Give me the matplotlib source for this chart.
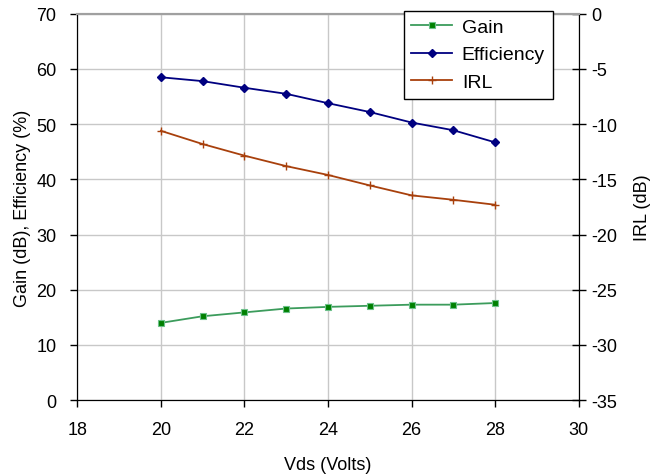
import matplotlib
matplotlib.use("Agg")
import matplotlib.pyplot as plt

plt.rcParams['font.family'] = ['Liberation Sans', 'DejaVu Sans']
plt.rcParams['axes.unicode_minus'] = False

# data
vds = [20, 21, 22, 23, 24, 25, 26, 27, 28]
gain = [14.0, 15.2, 15.9, 16.6, 16.9, 17.1, 17.3, 17.3, 17.6]
efficiency = [58.5, 57.8, 56.6, 55.5, 53.8, 52.2, 50.3, 48.9, 46.7]
irl = [-10.6, -11.8, -12.85, -13.8, -14.6, -15.55, -16.45, -16.85, -17.3]

fig = plt.figure(figsize=(6.6, 4.77), dpi=100)
ax = fig.add_axes([0.117, 0.159, 0.760, 0.810])
ax2 = ax.twinx()

l1, = ax.plot(vds, gain, '-', color='#3c9c5c', lw=1.3, marker='s', ms=5,
              mfc='#008000', mec='#6cc08a', mew=0.8, label='Gain')
l2, = ax.plot(vds, efficiency, '-', color='#000080', lw=1.3, marker='D', ms=4,
              mfc='#000080', mec='#000080', label='Efficiency')
l3, = ax2.plot(vds, irl, '-', color='#a8400c', lw=1.3, marker='+', ms=6,
               mec='#a8400c', mew=1.0, label='IRL')

ax.set_xlim(18, 30)
ax.set_ylim(0, 70)
ax2.set_ylim(-35, 0)
ax.set_xticks(range(18, 31, 2))
ax.set_yticks(range(0, 71, 10))
ax2.set_yticks(range(-35, 1, 5))

ax.grid(True, color='#c8c8c8', lw=1.0)
ax.set_axisbelow(True)

ax.tick_params(direction='out', length=5, width=1, labelsize=13, colors='black')
ax2.tick_params(direction='inout', length=10, width=1, labelsize=13, colors='black')
for a in (ax, ax2):
    a.spines['top'].set_color('#a0a0a0')
    a.spines['top'].set_linewidth(1.5)
ax.tick_params(axis='x', pad=10)
ax.tick_params(axis='y', pad=10)
ax2.tick_params(axis='y', pad=4)

ax.set_xlabel('Vds (Volts)', fontsize=13, labelpad=13)
ax.set_ylabel('Gain (dB), Efficiency (%)', fontsize=13, labelpad=4)
ax2.set_ylabel('IRL (dB)', fontsize=13, labelpad=12)

leg = ax2.legend(handles=[l1, l2, l3], loc='upper right',
                 bbox_to_anchor=(0.948, 1.008), borderaxespad=0, fontsize=14,
                 fancybox=False, edgecolor='black', framealpha=1,
                 handlelength=2.1, borderpad=0.4, labelspacing=0.5,
                 handletextpad=0.5)
leg.get_frame().set_linewidth(1.0)

fig.savefig('out.png', dpi=100)
